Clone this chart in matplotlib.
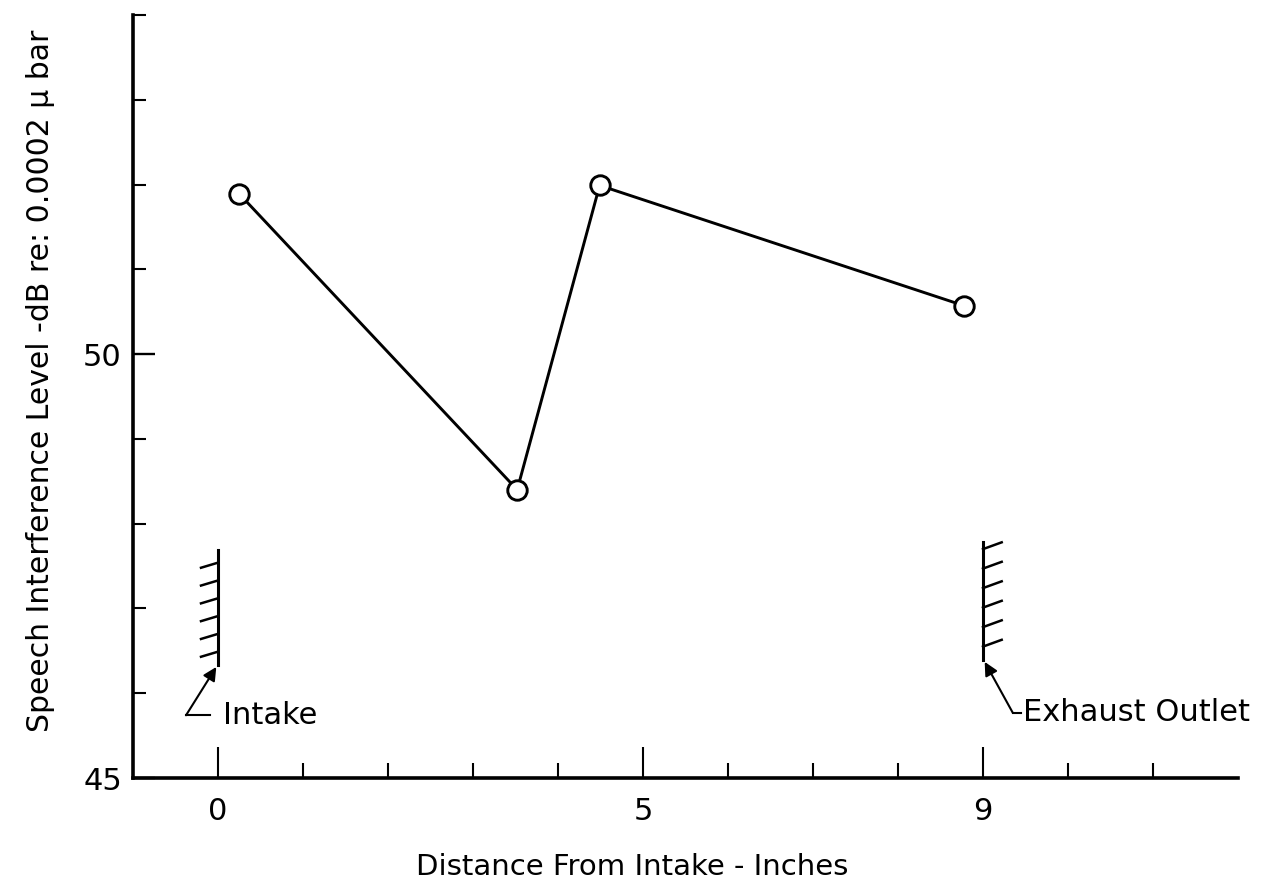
import numpy as np
import matplotlib
matplotlib.use("Agg")
import matplotlib.pyplot as plt

plt.rcParams['font.family'] = ['DejaVu Sans']

# data
distance_in = [0.25, 3.52, 4.49, 8.78]
sil_db = [51.89, 48.40, 51.99, 50.57]

x_major = [0, 5, 9]
x_minor = [1, 2, 3, 4, 6, 7, 8, 10, 11]
y_major = [45, 50]
y_minor = [46, 47, 48, 49, 51, 52, 53, 54]

intake_x = 0
exhaust_x = 9

fig = plt.figure(figsize=(12.78, 8.91), dpi=100)
ax = fig.add_axes([133 / 1278, 1 - 778 / 891, 1105 / 1278, 763 / 891])

ax.plot(distance_in, sil_db, color='black', lw=2.1, marker='o', ms=14,
        mfc='white', mec='black', mew=2.1, zorder=3)

ax.set_xlim(-1, 12)
ax.set_ylim(45, 54)
for s in ['top', 'right']:
    ax.spines[s].set_visible(False)
for s in ['left', 'bottom']:
    ax.spines[s].set_linewidth(2.6)

ax.set_xticks(x_major)
ax.set_xticks(x_minor, minor=True)
ax.set_yticks(y_major)
ax.set_yticks(y_minor, minor=True)
ax.tick_params(axis='x', which='major', direction='in', length=22, width=1.5,
               labelsize=22, pad=14)
ax.tick_params(axis='x', which='minor', direction='in', length=11, width=1.5)
ax.tick_params(axis='y', which='major', direction='in', length=16, width=1.7,
               labelsize=22, pad=8)
ax.tick_params(axis='y', which='minor', direction='in', length=9, width=1.5)

ax.set_xlabel('Distance From Intake - Inches', fontsize=21)
ax.xaxis.set_label_coords(0.452, -0.098)
ax.set_ylabel('Speech Interference Level -dB re: 0.0002 \u00b5 bar',
              fontsize=21.5)
ax.yaxis.set_label_coords(-0.071, 0.52)

# intake wall with hatching
ax.plot([intake_x, intake_x], [46.33, 47.69], color='black', lw=2.2)
for yh in np.linspace(46.49, 47.54, 6):
    ax.plot([intake_x, intake_x - 0.2], [yh, yh - 0.06], color='black', lw=1.8)
ax.plot([-0.376, -0.094], [45.74, 45.74], color='black', lw=1.5)
ax.annotate('', xy=(-0.02, 46.31), xytext=(-0.376, 45.74),
            arrowprops=dict(arrowstyle='-|>', color='black', lw=1.5,
                            mutation_scale=20, shrinkA=0, shrinkB=0))
ax.text(0.06, 45.74, 'Intake', fontsize=22, va='center', ha='left')

# exhaust wall with hatching
ax.plot([exhaust_x, exhaust_x], [46.39, 47.78], color='black', lw=2.2)
for yh in np.linspace(46.55, 47.7, 6):
    ax.plot([exhaust_x, exhaust_x + 0.22], [yh, yh + 0.08], color='black', lw=1.8)
ax.plot([9.35, 9.45], [45.77, 45.77], color='black', lw=1.5)
ax.annotate('', xy=(9.02, 46.37), xytext=(9.35, 45.77),
            arrowprops=dict(arrowstyle='-|>', color='black', lw=1.5,
                            mutation_scale=20, shrinkA=0, shrinkB=0))
ax.text(9.47, 45.77, 'Exhaust Outlet', fontsize=22, va='center', ha='left')

fig.savefig('out.png', dpi=100)
